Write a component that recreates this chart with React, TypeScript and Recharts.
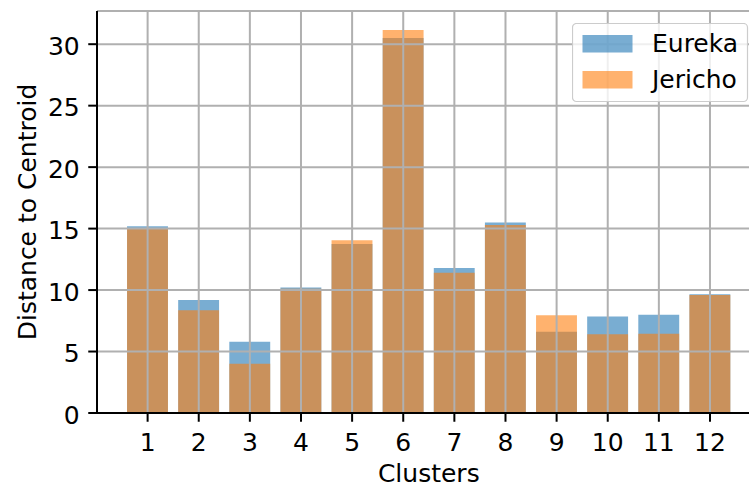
import React from 'react';
import { BarChart, Bar, XAxis, YAxis, CartesianGrid, Legend, Label } from 'recharts';

const clusters = [1, 2, 3, 4, 5, 6, 7, 8, 9, 10, 11, 12];
const eureka = [15.2, 9.2, 5.8, 10.2, 13.75, 30.5, 11.8, 15.5, 6.6, 7.85, 8.0, 9.65];
const jericho = [15.0, 8.35, 4.0, 10.1, 14.05, 31.15, 11.4, 15.3, 7.95, 6.4, 6.45, 9.6];
const yTicks = [0, 5, 10, 15, 20, 25, 30];
const seriesNames = ['Eureka', 'Jericho'];

const data = clusters.map((c, i) => ({ cluster: c, eureka: eureka[i], jericho: jericho[i] }));

const FONT = '"DejaVu Sans", sans-serif';
const FS = 25;
const BLUE = '#1f77b4';
const ORANGE = '#ff7f0e';

const XTick = (props: any) => {
  const { x, y, payload } = props;
  return (
    <text x={x} y={y} dy={29.5} textAnchor="middle" fontFamily={FONT} fontSize={FS} fill="#000">
      {payload.value}
    </text>
  );
};

const YTick = (props: any) => {
  const { x, y, payload } = props;
  return (
    <text x={x} y={y} dy={10.5} textAnchor="end" fontFamily={FONT} fontSize={FS} fill="#000">
      {payload.value}
    </text>
  );
};

const LegendBox = () => (
  <svg width={177} height={80} style={{ display: 'block' }}>
    <rect x={0.5} y={0.5} width={175} height={78} rx={4} ry={4} fill="rgba(255,255,255,0.8)" stroke="#cccccc" strokeWidth={1.2} />
    <rect x={10.5} y={12} width={50} height={17.5} fill={BLUE} fillOpacity={0.6} />
    <rect x={10.5} y={48} width={50} height={17.5} fill={ORANGE} fillOpacity={0.6} />
    <text x={80} y={29} fontFamily={FONT} fontSize={FS} fill="#000">{seriesNames[0]}</text>
    <text x={80} y={65.3} fontFamily={FONT} fontSize={FS} fill="#000">{seriesNames[1]}</text>
  </svg>
);

export default function App() {
  return (
    <div style={{ position: 'absolute', left: 0, top: 0, width: 749, height: 487, overflow: 'hidden', background: '#fff' }}>
      <BarChart
        width={780}
        height={487}
        data={data}
        margin={{ top: 11, right: 19.4, left: 37, bottom: 0 }}
        barGap={0}
      >
        <XAxis
          xAxisId={0}
          dataKey="cluster"
          type="number"
          domain={[0.01, 12.99]}
          allowDataOverflow
          ticks={clusters}
          interval={0}
          height={74}
          tickSize={8.75}
          tickMargin={0}
          tick={<XTick />}
          axisLine={{ stroke: '#000', strokeWidth: 2 }}
          tickLine={{ stroke: '#000', strokeWidth: 2 }}
        >
          <Label
            value="Clusters"
            position="insideBottom"
            offset={5}
            style={{ fontFamily: FONT, fontSize: FS, fill: '#000' }}
          />
        </XAxis>
        <XAxis
          xAxisId={1}
          dataKey="cluster"
          type="number"
          orientation="top"
          domain={[0.01, 12.99]}
          allowDataOverflow
          height={0}
          tick={false}
          tickLine={false}
          axisLine={{ stroke: '#000', strokeWidth: 2 }}
        />
        <YAxis
          type="number"
          domain={[0, 32.7]}
          allowDataOverflow
          ticks={yTicks}
          interval={0}
          width={60}
          tickSize={8.75}
          tickMargin={8.5}
          tick={<YTick />}
          axisLine={{ stroke: '#000', strokeWidth: 2 }}
          tickLine={{ stroke: '#000', strokeWidth: 2 }}
        >
          <Label
            content={(p: any) => {
              const vb = p.viewBox || { x: 37, y: 11, width: 60, height: 402 };
              const bx = vb.x - 1;
              const cy = vb.y + vb.height / 2;
              return (
                <text
                  x={bx}
                  y={cy}
                  transform={`rotate(-90 ${bx} ${cy})`}
                  textAnchor="middle"
                  fontFamily={FONT}
                  fontSize={FS}
                  fill="#000"
                >
                  Distance to Centroid
                </text>
              );
            }}
          />
        </YAxis>
        <Bar
          xAxisId={0}
          dataKey="eureka"
          name={seriesNames[0]}
          fill={BLUE}
          fillOpacity={0.6}
          barSize={40.9}
          isAnimationActive={false}
        />
        <Bar
          xAxisId={1}
          dataKey="jericho"
          name={seriesNames[1]}
          fill={ORANGE}
          fillOpacity={0.6}
          barSize={40.9}
          isAnimationActive={false}
        />
        <CartesianGrid
          xAxisId={0}
          stroke="#b0b0b0"
          strokeWidth={2}
          fill="none"
          {...({ zIndex: 400 } as any)}
        />
        <Legend
          layout="vertical"
          align="center"
          verticalAlign="middle"
          content={() => <LegendBox />}
          wrapperStyle={{ position: 'absolute', left: 572, top: 23, width: 177, height: 80, margin: 0, padding: 0 }}
        />
      </BarChart>
    </div>
  );
}
